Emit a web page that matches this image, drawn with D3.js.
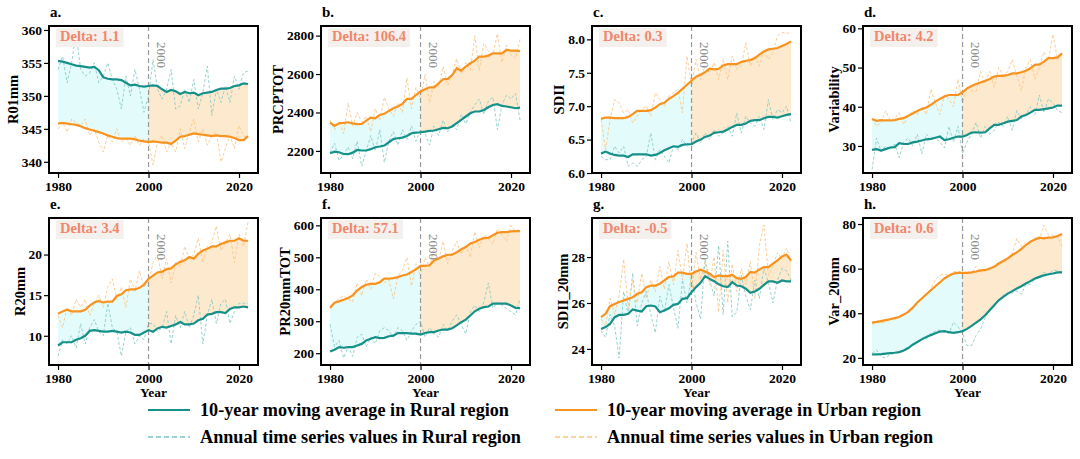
<!DOCTYPE html>
<html>
  <head>
    <meta charset="utf-8" />
    <script type="text/javascript" src="https://d3js.org/d3.v7.min.js"></script>
    <style>
      body { margin: 0; background: #fff; }
      text { font-family: "Liberation Serif", "Times New Roman", serif; }
    </style>
  </head>
  <body>
    <svg id="svg1" width="1080" height="459"></svg>

    <script>
      const years = [1980, 1981, 1982, 1983, 1984, 1985, 1986, 1987, 1988, 1989,
        1990, 1991, 1992, 1993, 1994, 1995, 1996, 1997, 1998, 1999,
        2000, 2001, 2002, 2003, 2004, 2005, 2006, 2007, 2008, 2009,
        2010, 2011, 2012, 2013, 2014, 2015, 2016, 2017, 2018, 2019,
        2020, 2021, 2022];

      // a. R01mm
      const r01RuralMA = [355.3, 355.2, 355.0, 354.8, 354.6, 354.5, 354.4, 354.3, 354.4, 353.9, 352.8, 352.6, 352.5, 352.5, 352.4, 352.0, 351.6, 351.7, 351.5, 351.4, 351.5, 351.6, 351.5, 351.0, 350.6, 350.9, 350.7, 350.3, 350.6, 350.4, 350.5, 350.1, 350.4, 350.5, 350.6, 350.9, 351.1, 351.1, 351.2, 351.5, 351.6, 351.9, 351.8];
      const r01UrbanMA = [345.8, 345.9, 345.8, 345.7, 345.6, 345.4, 345.1, 344.9, 344.7, 344.5, 344.3, 344.0, 343.8, 343.6, 343.5, 343.5, 343.5, 343.4, 343.2, 343.1, 343.0, 343.1, 343.0, 342.9, 342.9, 342.7, 343.2, 343.8, 343.9, 344.1, 344.3, 344.2, 344.1, 344.0, 343.9, 344.0, 343.9, 343.9, 343.8, 343.6, 343.3, 343.3, 343.9];
      const r01Rural = [354, 356, 352, 355, 359.5, 354, 353, 353.5, 355, 352, 353, 355, 352.5, 351, 348, 353, 350, 354, 351, 347.5, 350, 355.5, 351, 349.5, 351, 354, 348, 348.5, 351, 349, 352.5, 348, 350.5, 354.5, 347, 351, 349, 351.5, 349, 353, 351, 353.5, 353.8];
      const r01Urban = [345, 346, 344.5, 346.5, 346, 345.5, 346.5, 344, 345, 343, 341.5, 344, 343, 345, 343, 343.5, 342.5, 344, 342.5, 343.5, 343, 339.5, 343, 344, 341.5, 343, 341.5, 345, 342, 344.5, 346.5, 343, 345, 342.5, 344, 344.5, 340, 342, 344, 342, 345.5, 344, 343.5];

      // b. PRCPTOT
      const prcpRuralMA = [2188, 2196, 2193, 2184, 2183, 2191, 2205, 2202, 2202, 2209, 2219, 2223, 2228, 2245, 2262, 2266, 2269, 2278, 2292, 2295, 2297, 2300, 2304, 2306, 2313, 2320, 2318, 2327, 2344, 2361, 2379, 2396, 2405, 2405, 2413, 2427, 2439, 2443, 2434, 2431, 2427, 2422, 2425];
      const prcpUrbanMA = [2347, 2330, 2344, 2346, 2349, 2343, 2339, 2340, 2358, 2373, 2370, 2387, 2393, 2408, 2422, 2431, 2445, 2471, 2471, 2491, 2509, 2521, 2531, 2531, 2552, 2573, 2575, 2595, 2630, 2618, 2639, 2656, 2670, 2691, 2691, 2696, 2708, 2708, 2708, 2725, 2722, 2722, 2720];
      const prcpRural = [2190, 2240, 2150, 2180, 2220, 2160, 2250, 2120, 2200, 2280, 2200, 2310, 2140, 2250, 2300, 2230, 2310, 2260, 2330, 2250, 2310, 2290, 2230, 2330, 2280, 2360, 2300, 2340, 2310, 2390, 2340, 2400, 2440, 2470, 2390, 2460, 2480, 2310, 2440, 2490, 2470, 2500, 2360];
      const prcpUrban = [2360, 2310, 2350, 2290, 2450, 2330, 2400, 2350, 2380, 2300, 2420, 2360, 2480, 2420, 2380, 2450, 2400, 2580, 2420, 2530, 2470, 2600, 2450, 2560, 2530, 2640, 2540, 2600, 2680, 2600, 2660, 2620, 2800, 2620, 2760, 2720, 2700, 2810, 2660, 2750, 2700, 2680, 2780];

      // c. SDII
      const sdiiRuralMA = [6.29, 6.32, 6.29, 6.27, 6.26, 6.26, 6.24, 6.28, 6.28, 6.28, 6.28, 6.26, 6.27, 6.30, 6.34, 6.37, 6.40, 6.39, 6.42, 6.43, 6.43, 6.47, 6.50, 6.54, 6.56, 6.60, 6.61, 6.62, 6.65, 6.69, 6.72, 6.72, 6.74, 6.78, 6.79, 6.79, 6.82, 6.84, 6.84, 6.83, 6.85, 6.87, 6.88];
      const sdiiUrbanMA = [6.81, 6.83, 6.83, 6.82, 6.82, 6.82, 6.84, 6.88, 6.93, 6.93, 6.93, 6.94, 6.98, 7.03, 7.05, 7.11, 7.15, 7.20, 7.26, 7.32, 7.38, 7.44, 7.47, 7.51, 7.56, 7.55, 7.56, 7.61, 7.63, 7.63, 7.63, 7.66, 7.68, 7.69, 7.72, 7.77, 7.82, 7.85, 7.86, 7.87, 7.90, 7.93, 7.97];
      const sdiiRural = [6.25, 6.2, 6.2, 6.4, 6.3, 6.4, 6.1, 6.15, 6.1, 6.2, 6.25, 6.6, 6.2, 6.35, 6.25, 6.15, 6.4, 6.35, 6.5, 6.4, 6.45, 6.6, 6.45, 6.6, 6.5, 6.65, 6.55, 6.6, 6.7, 6.55, 6.9, 6.6, 6.85, 6.75, 6.7, 6.85, 6.65, 7.1, 6.8, 6.95, 6.9, 7.0, 6.75];
      const sdiiUrban = [6.8, 6.35, 6.8, 7.1, 7.05, 6.9, 6.95, 6.75, 6.85, 6.95, 7.0, 6.85, 7.2, 7.1, 7.0, 7.15, 7.2, 7.25, 6.9, 7.75, 7.3, 7.7, 7.4, 7.6, 7.5, 7.65, 7.4, 7.7, 7.4, 7.75, 7.55, 7.6, 7.95, 7.6, 7.75, 7.6, 7.85, 7.7, 7.8, 8.05, 8.1, 8.1, 8.08];

      // d. Variability
      const varRuralMA = [29.0, 29.2, 28.8, 29.2, 29.6, 29.7, 30.7, 30.5, 30.5, 30.9, 31.1, 31.4, 31.7, 31.8, 32.1, 32.4, 31.5, 31.7, 32.1, 32.4, 32.4, 32.8, 33.4, 33.5, 33.4, 33.5, 34.5, 35.4, 35.4, 35.8, 36.2, 36.4, 36.6, 37.5, 37.9, 38.5, 39.2, 39.2, 39.4, 39.6, 39.8, 40.3, 40.3];
      const varUrbanMA = [36.9, 36.4, 36.6, 36.5, 36.5, 36.6, 36.9, 37.1, 37.7, 38.3, 38.9, 39.4, 39.8, 40.5, 41.3, 42.0, 42.6, 43.0, 43.0, 43.0, 43.7, 44.7, 45.3, 45.8, 46.2, 46.6, 47.1, 47.7, 47.9, 47.9, 48.1, 48.5, 48.5, 48.8, 49.2, 49.8, 50.7, 50.8, 51.5, 52.4, 52.4, 52.6, 53.6];
      const varRural = [24, 32, 28.5, 30, 29, 30.5, 27, 31, 32, 30, 33, 28, 33, 31.5, 32, 31, 29.5, 35, 31, 35, 28, 31, 33, 36, 32, 35, 33, 34, 36, 35, 37.5, 34, 39, 37, 38, 40, 38, 43, 38.5, 42, 41, 39, 38.5];
      const varUrban = [37, 35, 36, 39, 36.5, 37, 38.5, 35.5, 37.5, 39, 38, 40, 38, 44.5, 41, 38, 43, 42, 40, 47, 41, 45, 44, 44, 49, 46, 49, 45, 50, 48, 49, 52, 48, 44, 50, 52, 47, 50, 54, 52, 58.5, 52, 53.5];

      // e. R20mm
      const r20RuralMA = [8.8, 9.2, 9.2, 9.2, 9.5, 9.7, 10.0, 10.6, 10.7, 10.6, 10.5, 10.5, 10.6, 10.5, 10.4, 10.5, 10.4, 10.1, 10.1, 10.4, 10.7, 10.5, 10.9, 11.1, 11.0, 11.2, 11.4, 11.7, 11.4, 11.4, 11.5, 11.9, 12.1, 12.6, 12.7, 12.9, 12.9, 12.8, 13.3, 13.5, 13.5, 13.6, 13.5];
      const r20UrbanMA = [12.7, 13.0, 13.2, 13.0, 13.0, 13.0, 13.2, 13.7, 14.1, 14.3, 14.1, 14.2, 14.2, 14.9, 15.1, 15.6, 15.7, 15.7, 15.9, 16.3, 17.0, 17.4, 17.8, 17.9, 18.2, 18.3, 18.8, 19.1, 19.3, 19.7, 19.5, 20.1, 20.5, 20.7, 21.0, 21.0, 21.3, 21.5, 21.7, 21.7, 22.0, 21.7, 21.7];
      const r20Rural = [7.5, 9.5, 9, 10, 8.5, 11.5, 9, 11, 12, 10.5, 10, 14, 11, 10.5, 7.5, 10.5, 11, 9, 10, 9.5, 11.5, 11.5, 10.5, 11, 13, 9, 12.5, 11, 13, 11, 12.5, 15, 9, 12.5, 14.5, 11.5, 14, 14.5, 11.5, 13, 14, 14, 14];
      const r20Urban = [12.5, 11, 13.5, 12.5, 14.5, 13.5, 14.5, 12.5, 14, 15, 13.5, 16, 17, 14.5, 16, 13.5, 17, 15.5, 18, 16, 16.5, 19, 20, 17, 19.5, 16.5, 19, 18.5, 21, 19.5, 20, 22, 19, 21, 21.5, 23.5, 20.5, 21.5, 22.5, 19, 22.5, 21, 24];

      // f. PR20mmTOT
      const pr20RuralMA = [205, 211, 219, 217, 219, 219, 224, 229, 240, 245, 250, 247, 248, 253, 255, 263, 263, 263, 261, 261, 258, 263, 266, 266, 271, 274, 274, 278, 287, 297, 305, 318, 331, 339, 344, 346, 355, 355, 355, 355, 349, 342, 341];
      const pr20UrbanMA = [342, 358, 362, 367, 373, 381, 396, 407, 414, 417, 417, 422, 433, 433, 435, 438, 443, 446, 454, 462, 473, 473, 475, 490, 496, 503, 508, 508, 516, 525, 532, 543, 548, 555, 560, 561, 569, 577, 579, 579, 581, 582, 582];
      const pr20Rural = [290, 220, 240, 185, 220, 190, 250, 260, 220, 250, 230, 270, 280, 270, 250, 280, 270, 240, 270, 290, 300, 250, 280, 260, 250, 290, 270, 300, 320, 290, 260, 330, 350, 330, 360, 420, 340, 360, 350, 340, 330, 320, 370];
      const pr20Urban = [340, 360, 370, 380, 370, 360, 420, 380, 430, 400, 450, 440, 420, 430, 370, 440, 460, 500, 410, 480, 440, 500, 470, 530, 490, 550, 480, 520, 550, 510, 540, 500, 580, 530, 570, 560, 540, 590, 570, 550, 600, 580, 590];

      // g. SDII_20mm
      const sdii20RuralMA = [24.87, 24.95, 25.09, 25.38, 25.48, 25.48, 25.53, 25.72, 25.67, 25.63, 25.86, 25.89, 25.85, 25.60, 25.67, 25.77, 25.92, 25.96, 26.18, 26.21, 26.47, 26.69, 26.88, 27.17, 27.05, 26.95, 26.81, 26.73, 26.69, 26.91, 26.76, 26.73, 26.62, 26.44, 26.50, 26.62, 26.79, 26.94, 26.94, 26.88, 26.98, 26.94, 26.94];
      const sdii20UrbanMA = [25.38, 25.53, 25.86, 25.96, 26.04, 26.11, 26.18, 26.25, 26.40, 26.47, 26.69, 26.76, 26.76, 26.84, 26.98, 27.13, 27.16, 27.32, 27.32, 27.27, 27.27, 27.37, 27.45, 27.37, 27.27, 27.13, 27.20, 27.17, 27.17, 27.23, 27.08, 27.05, 27.13, 27.35, 27.32, 27.46, 27.56, 27.56, 27.71, 27.85, 28.03, 28.10, 27.85];
      const sdii20Rural = [24.8, 24.5, 25.5, 25.0, 23.6, 26.5, 25.5, 27.3, 25.0, 26.0, 26.5, 25.5, 24.7, 26.3, 25.6, 26.8, 25.8, 24.9, 27.0, 26.0, 27.2, 26.0, 25.3, 27.9, 27.0, 26.3, 28.5, 25.5, 28.7, 25.4, 25.6, 27.2, 26.3, 25.7, 27.0, 26.2, 27.5, 26.9, 26.0, 27.0, 27.5, 27.4, 27.0];
      const sdii20Urban = [25.3, 25.0, 26.2, 25.5, 26.3, 27.9, 25.8, 27.0, 26.0, 27.3, 26.2, 27.0, 26.5, 27.6, 26.6, 27.8, 26.8, 28.3, 27.0, 28.6, 26.5, 28.2, 27.0, 27.8, 26.8, 28.0, 25.6, 28.3, 26.0, 27.7, 26.5, 27.5, 26.8, 27.8, 26.2, 28.5, 29.4, 27.2, 27.6, 28.2, 27.9, 28.4, 27.8];

      // h. Var_20mm
      const var20RuralMA = [21.5, 21.6, 21.7, 21.9, 22.1, 22.3, 22.6, 23.3, 24.4, 25.9, 27.1, 28.3, 29.3, 30.2, 31.0, 31.8, 32.0, 31.5, 31.2, 31.5, 32.0, 33.0, 34.3, 35.8, 37.3, 39.1, 41.3, 43.6, 45.8, 47.3, 48.8, 49.9, 51.1, 52.1, 53.3, 54.4, 55.6, 56.3, 57.0, 57.5, 57.8, 58.3, 58.3];
      const var20UrbanMA = [35.8, 36.1, 36.5, 36.9, 37.3, 37.8, 38.3, 39.4, 40.6, 42.5, 44.8, 46.6, 48.5, 50.3, 52.1, 53.8, 55.6, 56.8, 57.8, 58.1, 58.1, 58.1, 58.3, 58.7, 59.2, 59.3, 60.1, 60.8, 62.3, 63.4, 64.6, 66.1, 67.3, 68.8, 70.6, 72.1, 73.1, 73.9, 73.6, 73.9, 74.0, 74.6, 75.5];
      const var20Rural = [22, 23.5, 20.5, 20, 21.5, 22, 22.5, 23, 24, 26, 27, 29, 28.5, 31, 32, 32.5, 31.5, 31, 36, 34, 31, 25.5, 25.5, 30, 33, 38, 42, 43, 46, 48, 49, 49, 50, 48.5, 53, 53, 55, 56, 58.5, 57, 59.5, 59, 58.5];
      const var20Urban = [35, 36, 35.5, 36, 37.5, 37, 38.5, 39, 41, 42, 44, 46.5, 48, 51, 55, 57, 57.5, 57, 58.5, 59, 58, 58.5, 58, 61, 59, 59.5, 60, 61, 63, 62.5, 64, 67, 73.5, 70, 72, 71, 74, 73, 79.5, 75, 75, 74.5, 70];

      const panelLetters = ["a.", "b.", "c.", "d.", "e.", "f.", "g.", "h."];
      const yLabels = ["R01mm", "PRCPTOT", "SDII", "Variability", "R20mm", "PR20mmTOT", "SDII_20mm", "Var_20mm"];
      const deltas = ["1.1", "106.4", "0.3", "4.2", "3.4", "57.1", "-0.5", "0.6"];
      const yDomains = [[338.3, 360.6], [2085, 2850], [6.0, 8.2], [23.1, 60.6], [6.4, 24.5], [163, 623], [23.3, 29.7], [16.8, 82.7]];
      const yTicks = [[340, 345, 350, 355, 360], [2200, 2400, 2600, 2800], [6.0, 6.5, 7.0, 7.5, 8.0], [30, 40, 50, 60], [10, 15, 20], [200, 300, 400, 500, 600], [24, 26, 28], [20, 40, 60, 80]];
      const xTicks = [1980, 2000, 2020];
      const splitYear = 2000;

      const series = [
        [r01RuralMA, r01UrbanMA, r01Rural, r01Urban],
        [prcpRuralMA, prcpUrbanMA, prcpRural, prcpUrban],
        [sdiiRuralMA, sdiiUrbanMA, sdiiRural, sdiiUrban],
        [varRuralMA, varUrbanMA, varRural, varUrban],
        [r20RuralMA, r20UrbanMA, r20Rural, r20Urban],
        [pr20RuralMA, pr20UrbanMA, pr20Rural, pr20Urban],
        [sdii20RuralMA, sdii20UrbanMA, sdii20Rural, sdii20Urban],
        [var20RuralMA, var20UrbanMA, var20Rural, var20Urban]
      ];

      const teal = "#16918a";
      const orange = "#f7931e";
      const colLeft = [49, 321, 592, 863];
      const rowTop = [26, 218];
      const pw = 209, ph = 147;

      const svg = d3.select("#svg1");

      series.forEach(function (s, i) {
        const left = colLeft[i % 4];
        const top = rowTop[Math.floor(i / 4)];
        const g = svg.append("g").attr("transform", "translate(" + left + "," + top + ")");

        const x = d3.scaleLinear().domain([1978, 2024.2]).range([0, pw]);
        const y = d3.scaleLinear().domain(yDomains[i]).range([ph, 0]);

        const rows = years.map(function (yr, k) {
          return { year: yr, rMA: s[0][k], uMA: s[1][k], r: s[2][k], u: s[3][k] };
        });

        // shaded band between the two moving averages
        const band = d3.area()
          .x(function (d) { return x(d.year); })
          .y0(function (d) { return y(d.uMA); })
          .y1(function (d) { return y(d.rMA); });

        g.append("path")
          .datum(rows.filter(function (d) { return d.year <= splitYear; }))
          .attr("d", band)
          .attr("fill", "#e3fbfb");
        g.append("path")
          .datum(rows.filter(function (d) { return d.year >= splitYear; }))
          .attr("d", band)
          .attr("fill", "#fde9cd");

        // annual dashed lines
        g.append("path")
          .datum(rows)
          .attr("fill", "none")
          .attr("stroke", "#8ccdc8")
          .attr("stroke-width", 0.9)
          .attr("stroke-dasharray", "3,2")
          .attr("d", d3.line().x(function (d) { return x(d.year); }).y(function (d) { return y(d.r); }));
        g.append("path")
          .datum(rows)
          .attr("fill", "none")
          .attr("stroke", "#f8c88c")
          .attr("stroke-width", 0.9)
          .attr("stroke-dasharray", "3,2")
          .attr("d", d3.line().x(function (d) { return x(d.year); }).y(function (d) { return y(d.u); }));

        // 2000 marker
        g.append("line")
          .attr("x1", x(splitYear)).attr("x2", x(splitYear))
          .attr("y1", 0).attr("y2", ph)
          .attr("stroke", "#999")
          .attr("stroke-width", 1.2)
          .attr("stroke-dasharray", "5,3");
        g.append("text")
          .attr("transform", "translate(" + (x(splitYear) + 8) + ",16) rotate(90)")
          .attr("font-size", 13)
          .attr("fill", "#8a8a8a")
          .text("2000");

        // moving averages
        g.append("path")
          .datum(rows)
          .attr("fill", "none")
          .attr("stroke", teal)
          .attr("stroke-width", 2.2)
          .attr("d", d3.line().x(function (d) { return x(d.year); }).y(function (d) { return y(d.rMA); }));
        g.append("path")
          .datum(rows)
          .attr("fill", "none")
          .attr("stroke", orange)
          .attr("stroke-width", 2.2)
          .attr("d", d3.line().x(function (d) { return x(d.year); }).y(function (d) { return y(d.uMA); }));

        // delta box
        const dTxt = g.append("text")
          .attr("x", 11)
          .attr("y", 15)
          .attr("font-size", 14.5)
          .attr("font-weight", "bold")
          .attr("fill", "#f2876a")
          .text("Delta: " + deltas[i]);
        const bb = dTxt.node().getBBox();
        g.insert("rect", function () { return dTxt.node(); })
          .attr("x", bb.x - 4)
          .attr("y", 2)
          .attr("width", bb.width + 8)
          .attr("height", 19)
          .attr("fill", "#f3f0ee");

        // axes
        const yAxis = g.append("g")
          .call(d3.axisLeft(y).tickValues(yTicks[i]).tickSize(5).tickPadding(2)
            .tickFormat(i === 2 ? d3.format(".1f") : d3.format("d")));
        const xAxis = g.append("g")
          .attr("transform", "translate(0," + ph + ")")
          .call(d3.axisBottom(x).tickValues(xTicks).tickSize(5).tickPadding(3).tickFormat(d3.format("d")));
        [yAxis, xAxis].forEach(function (ax) {
          ax.select(".domain").remove();
          ax.selectAll("line").attr("stroke", "#000").attr("stroke-width", 1.2);
          ax.selectAll("text")
            .attr("font-family", "Liberation Serif, serif")
            .attr("font-size", 13.5)
            .attr("font-weight", "bold")
            .attr("fill", "#000");
        });

        g.append("rect")
          .attr("width", pw).attr("height", ph)
          .attr("fill", "none")
          .attr("stroke", "#000")
          .attr("stroke-width", 2);

        // titles
        g.append("text")
          .attr("x", 1).attr("y", -9)
          .attr("font-size", 15)
          .attr("font-weight", "bold")
          .text(panelLetters[i]);

        const yb = yAxis.node().getBBox();
        g.append("text")
          .attr("transform", "translate(" + (yb.x - 4) + "," + ph / 2 + ") rotate(-90)")
          .attr("text-anchor", "middle")
          .attr("font-size", 14.5)
          .attr("font-weight", "bold")
          .text(yLabels[i]);

        if (i >= 4) {
          g.append("text")
            .attr("x", pw / 2).attr("y", ph + 32)
            .attr("text-anchor", "middle")
            .attr("font-size", 13.5)
            .attr("font-weight", "bold")
            .text("Year");
        }
      });

      // legend
      const legendItems = [
        { label: "10-year moving average in Rural region", color: teal, dash: null, x: 148, y: 410 },
        { label: "10-year moving average in Urban region", color: orange, dash: null, x: 555, y: 410 },
        { label: "Annual time series values in Rural region", color: "#3aa6a0", dash: "5,3", x: 148, y: 437 },
        { label: "Annual time series values in Urban region", color: "#f5a748", dash: "5,3", x: 555, y: 437 }
      ];
      const legend = svg.append("g");
      legendItems.forEach(function (d) {
        legend.append("line")
          .attr("x1", d.x).attr("x2", d.x + 42)
          .attr("y1", d.y).attr("y2", d.y)
          .attr("stroke", d.color)
          .attr("stroke-width", d.dash ? 1.2 : 2.2)
          .attr("stroke-dasharray", d.dash);
        legend.append("text")
          .attr("x", d.x + 52).attr("y", d.y + 6)
          .attr("font-size", 18.2)
          .attr("font-weight", "bold")
          .text(d.label);
      });
    </script>
  </body>
</html>
